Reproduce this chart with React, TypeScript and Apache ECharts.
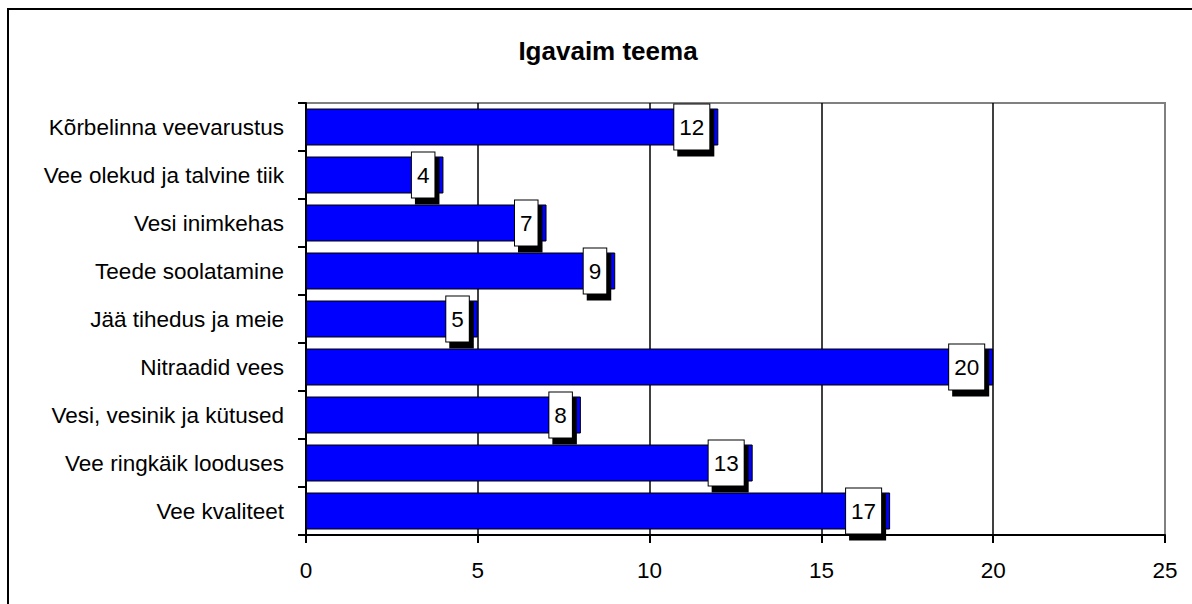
import React, { useEffect, useRef } from "react";
import * as echarts from "echarts";

const categories = [
  "Kõrbelinna veevarustus",
  "Vee olekud ja talvine tiik",
  "Vesi inimkehas",
  "Teede soolatamine",
  "Jää tihedus ja meie",
  "Nitraadid vees",
  "Vesi, vesinik ja kütused",
  "Vee ringkäik looduses",
  "Vee kvaliteet",
];
const values = [12, 4, 7, 9, 5, 20, 8, 13, 17];
const titleText = "Igavaim teema";

export default function App() {
  const ref = useRef<HTMLDivElement>(null);
  useEffect(() => {
    const chart = echarts.init(ref.current!, null, { renderer: "svg" });
    const font = "Arial, 'Liberation Sans', sans-serif";
    chart.setOption({
      animation: false,
      backgroundColor: "#ffffff",
      title: {
        text: titleText,
        left: 603,
        textAlign: "center",
        top: 33,
        textStyle: { fontFamily: font, fontSize: 26, fontWeight: "bold", color: "#000" },
      },
      graphic: [
        {
          type: "rect",
          shape: { x: 8, y: 9, width: 1400, height: 1000 },
          style: { fill: "none", stroke: "#000", lineWidth: 2 },
          silent: true,
        },
      ],
      grid: {
        left: 306,
        right: 27,
        top: 103,
        bottom: 69,
        show: true,
        borderColor: "#808080",
        borderWidth: 2,
      },
      xAxis: {
        type: "value",
        min: 0,
        max: 25,
        interval: 5,
        axisLine: { show: true, lineStyle: { color: "#000", width: 2 } },
        axisTick: { show: true, length: 8, lineStyle: { color: "#000", width: 2 } },
        axisLabel: { margin: 24, fontFamily: font, fontSize: 22.5, color: "#000" },
        splitLine: {
          show: true,
          lineStyle: { color: ["#000", "#000", "#000", "#000", "#000", "#808080"], width: 1.5 },
        },
      },
      yAxis: {
        type: "category",
        data: categories,
        inverse: true,
        axisLine: { show: true, lineStyle: { color: "#000", width: 2 } },
        axisTick: { show: true, length: 8, lineStyle: { color: "#000", width: 2 } },
        axisLabel: { margin: 22, fontFamily: font, fontSize: 22.5, color: "#000" },
        splitLine: { show: false },
      },
      series: [
        {
          type: "bar",
          data: values,
          barWidth: 37,
          itemStyle: { color: "#0000ff", borderColor: "#000", borderWidth: 1 },
          label: {
            show: true,
            position: "insideRight",
            distance: 9,
            fontFamily: font,
            fontSize: 22.5,
            color: "#000",
            backgroundColor: "#fff",
            borderColor: "#000",
            borderWidth: 1,
            padding: [11, 5, 11, 5],
            shadowColor: "#000",
            shadowBlur: 0,
            shadowOffsetX: 4,
            shadowOffsetY: 6,
          },
        },
      ],
    });
    return () => chart.dispose();
  }, []);
  return (
    <div
      ref={ref}
      style={{ position: "fixed", left: 0, top: 0, width: 1192, height: 604 }}
    />
  );
}
